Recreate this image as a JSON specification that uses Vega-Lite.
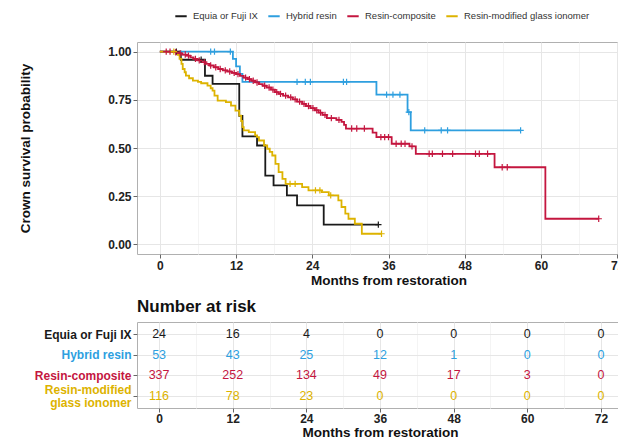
{
  "$schema": "https://vega.github.io/schema/vega-lite/v6.json",
  "padding": {"left": 17, "top": 9, "right": 5, "bottom": 0},
  "background": "white",
  "config": {
    "font": "Liberation Sans",
    "view": {"stroke": "#b0b0b0", "strokeWidth": 1},
    "axis": {
      "labelFont": "Liberation Sans",
      "titleFont": "Liberation Sans",
      "labelFontWeight": "bold",
      "labelFontSize": 12,
      "labelColor": "#222222",
      "titleFontWeight": "bold",
      "titleFontSize": 13.5,
      "titleColor": "#111111",
      "domain": false,
      "tickColor": "#666666",
      "tickSize": 4,
      "gridColor": "#e6e6e6",
      "gridWidth": 1
    }
  },
  "datasets": {
    "km": [
      {"g": "Equia or Fuji IX", "t": 0, "s": 1},
      {"g": "Equia or Fuji IX", "t": 3.3, "s": 0.958},
      {"g": "Equia or Fuji IX", "t": 7.1, "s": 0.875},
      {"g": "Equia or Fuji IX", "t": 8.3, "s": 0.833},
      {"g": "Equia or Fuji IX", "t": 12.5, "s": 0.667},
      {"g": "Equia or Fuji IX", "t": 13.0, "s": 0.56},
      {"g": "Equia or Fuji IX", "t": 15.3, "s": 0.513},
      {"g": "Equia or Fuji IX", "t": 16.6, "s": 0.357},
      {"g": "Equia or Fuji IX", "t": 17.9, "s": 0.306},
      {"g": "Equia or Fuji IX", "t": 20.0, "s": 0.254},
      {"g": "Equia or Fuji IX", "t": 21.6, "s": 0.202},
      {"g": "Equia or Fuji IX", "t": 25.8, "s": 0.102},
      {"g": "Equia or Fuji IX", "t": 34.4, "s": 0.102},
      {"g": "Hybrid resin", "t": 0, "s": 1},
      {"g": "Hybrid resin", "t": 11.5, "s": 0.962},
      {"g": "Hybrid resin", "t": 12.0, "s": 0.924},
      {"g": "Hybrid resin", "t": 12.6, "s": 0.885},
      {"g": "Hybrid resin", "t": 13.0, "s": 0.843},
      {"g": "Hybrid resin", "t": 34.1, "s": 0.777},
      {"g": "Hybrid resin", "t": 39.0, "s": 0.686},
      {"g": "Hybrid resin", "t": 39.5, "s": 0.591},
      {"g": "Hybrid resin", "t": 56.8, "s": 0.591},
      {"g": "Resin-composite", "t": 0, "s": 1},
      {"g": "Resin-composite", "t": 2.0, "s": 0.997},
      {"g": "Resin-composite", "t": 3.0, "s": 0.991},
      {"g": "Resin-composite", "t": 3.5, "s": 0.985},
      {"g": "Resin-composite", "t": 4.2, "s": 0.979},
      {"g": "Resin-composite", "t": 4.8, "s": 0.970},
      {"g": "Resin-composite", "t": 5.3, "s": 0.962},
      {"g": "Resin-composite", "t": 5.9, "s": 0.955},
      {"g": "Resin-composite", "t": 6.5, "s": 0.946},
      {"g": "Resin-composite", "t": 7.2, "s": 0.937},
      {"g": "Resin-composite", "t": 7.8, "s": 0.928},
      {"g": "Resin-composite", "t": 8.5, "s": 0.919},
      {"g": "Resin-composite", "t": 9.2, "s": 0.910},
      {"g": "Resin-composite", "t": 9.9, "s": 0.903},
      {"g": "Resin-composite", "t": 10.6, "s": 0.897},
      {"g": "Resin-composite", "t": 11.3, "s": 0.890},
      {"g": "Resin-composite", "t": 12.0, "s": 0.883},
      {"g": "Resin-composite", "t": 12.6, "s": 0.874},
      {"g": "Resin-composite", "t": 13.2, "s": 0.865},
      {"g": "Resin-composite", "t": 13.8, "s": 0.857},
      {"g": "Resin-composite", "t": 14.4, "s": 0.849},
      {"g": "Resin-composite", "t": 15.0, "s": 0.840},
      {"g": "Resin-composite", "t": 15.6, "s": 0.831},
      {"g": "Resin-composite", "t": 16.2, "s": 0.823},
      {"g": "Resin-composite", "t": 16.8, "s": 0.814},
      {"g": "Resin-composite", "t": 17.5, "s": 0.803},
      {"g": "Resin-composite", "t": 18.1, "s": 0.790},
      {"g": "Resin-composite", "t": 18.7, "s": 0.781},
      {"g": "Resin-composite", "t": 19.4, "s": 0.772},
      {"g": "Resin-composite", "t": 20.2, "s": 0.763},
      {"g": "Resin-composite", "t": 20.9, "s": 0.752},
      {"g": "Resin-composite", "t": 21.6, "s": 0.741},
      {"g": "Resin-composite", "t": 22.4, "s": 0.729},
      {"g": "Resin-composite", "t": 23.0, "s": 0.718},
      {"g": "Resin-composite", "t": 23.7, "s": 0.707},
      {"g": "Resin-composite", "t": 24.4, "s": 0.696},
      {"g": "Resin-composite", "t": 25.0, "s": 0.684},
      {"g": "Resin-composite", "t": 25.6, "s": 0.672},
      {"g": "Resin-composite", "t": 26.3, "s": 0.655},
      {"g": "Resin-composite", "t": 27.8, "s": 0.646},
      {"g": "Resin-composite", "t": 28.6, "s": 0.636},
      {"g": "Resin-composite", "t": 29.0, "s": 0.620},
      {"g": "Resin-composite", "t": 29.3, "s": 0.601},
      {"g": "Resin-composite", "t": 33.5, "s": 0.580},
      {"g": "Resin-composite", "t": 34.1, "s": 0.556},
      {"g": "Resin-composite", "t": 36.5, "s": 0.522},
      {"g": "Resin-composite", "t": 39.3, "s": 0.508},
      {"g": "Resin-composite", "t": 40.3, "s": 0.470},
      {"g": "Resin-composite", "t": 52.7, "s": 0.400},
      {"g": "Resin-composite", "t": 60.7, "s": 0.133},
      {"g": "Resin-composite", "t": 69.1, "s": 0.133},
      {"g": "Resin-modified glass ionomer", "t": 0, "s": 1},
      {"g": "Resin-modified glass ionomer", "t": 2.8, "s": 0.983},
      {"g": "Resin-modified glass ionomer", "t": 3.1, "s": 0.962},
      {"g": "Resin-modified glass ionomer", "t": 3.4, "s": 0.936},
      {"g": "Resin-modified glass ionomer", "t": 3.6, "s": 0.910},
      {"g": "Resin-modified glass ionomer", "t": 3.9, "s": 0.893},
      {"g": "Resin-modified glass ionomer", "t": 4.1, "s": 0.876},
      {"g": "Resin-modified glass ionomer", "t": 4.6, "s": 0.862},
      {"g": "Resin-modified glass ionomer", "t": 5.2, "s": 0.850},
      {"g": "Resin-modified glass ionomer", "t": 6.0, "s": 0.843},
      {"g": "Resin-modified glass ionomer", "t": 6.5, "s": 0.836},
      {"g": "Resin-modified glass ionomer", "t": 7.5, "s": 0.824},
      {"g": "Resin-modified glass ionomer", "t": 8.0, "s": 0.810},
      {"g": "Resin-modified glass ionomer", "t": 8.3, "s": 0.798},
      {"g": "Resin-modified glass ionomer", "t": 8.6, "s": 0.772},
      {"g": "Resin-modified glass ionomer", "t": 9.1, "s": 0.746},
      {"g": "Resin-modified glass ionomer", "t": 10.4, "s": 0.738},
      {"g": "Resin-modified glass ionomer", "t": 11.2, "s": 0.720},
      {"g": "Resin-modified glass ionomer", "t": 11.9, "s": 0.694},
      {"g": "Resin-modified glass ionomer", "t": 12.5, "s": 0.668},
      {"g": "Resin-modified glass ionomer", "t": 12.8, "s": 0.640},
      {"g": "Resin-modified glass ionomer", "t": 13.0, "s": 0.608},
      {"g": "Resin-modified glass ionomer", "t": 13.2, "s": 0.591},
      {"g": "Resin-modified glass ionomer", "t": 14.0, "s": 0.582},
      {"g": "Resin-modified glass ionomer", "t": 15.0, "s": 0.565},
      {"g": "Resin-modified glass ionomer", "t": 15.3, "s": 0.556},
      {"g": "Resin-modified glass ionomer", "t": 15.6, "s": 0.539},
      {"g": "Resin-modified glass ionomer", "t": 16.4, "s": 0.513},
      {"g": "Resin-modified glass ionomer", "t": 16.9, "s": 0.496},
      {"g": "Resin-modified glass ionomer", "t": 17.3, "s": 0.480},
      {"g": "Resin-modified glass ionomer", "t": 17.7, "s": 0.461},
      {"g": "Resin-modified glass ionomer", "t": 18.2, "s": 0.418},
      {"g": "Resin-modified glass ionomer", "t": 18.7, "s": 0.375},
      {"g": "Resin-modified glass ionomer", "t": 19.3, "s": 0.340},
      {"g": "Resin-modified glass ionomer", "t": 19.8, "s": 0.314},
      {"g": "Resin-modified glass ionomer", "t": 22.4, "s": 0.297},
      {"g": "Resin-modified glass ionomer", "t": 23.4, "s": 0.280},
      {"g": "Resin-modified glass ionomer", "t": 25.5, "s": 0.271},
      {"g": "Resin-modified glass ionomer", "t": 26.6, "s": 0.254},
      {"g": "Resin-modified glass ionomer", "t": 28.1, "s": 0.228},
      {"g": "Resin-modified glass ionomer", "t": 28.6, "s": 0.194},
      {"g": "Resin-modified glass ionomer", "t": 29.2, "s": 0.159},
      {"g": "Resin-modified glass ionomer", "t": 29.7, "s": 0.133},
      {"g": "Resin-modified glass ionomer", "t": 30.7, "s": 0.107},
      {"g": "Resin-modified glass ionomer", "t": 31.8, "s": 0.055},
      {"g": "Resin-modified glass ionomer", "t": 34.9, "s": 0.055}
    ],
    "cens": [
      {"g": "Equia or Fuji IX", "t": 2.6, "s": 1},
      {"g": "Equia or Fuji IX", "t": 6.5, "s": 0.958},
      {"g": "Equia or Fuji IX", "t": 34.4, "s": 0.102},
      {"g": "Hybrid resin", "t": 8.0, "s": 1},
      {"g": "Hybrid resin", "t": 8.6, "s": 1},
      {"g": "Hybrid resin", "t": 11.1, "s": 1},
      {"g": "Hybrid resin", "t": 21.6, "s": 0.843},
      {"g": "Hybrid resin", "t": 22.9, "s": 0.843},
      {"g": "Hybrid resin", "t": 23.7, "s": 0.843},
      {"g": "Hybrid resin", "t": 28.9, "s": 0.843},
      {"g": "Hybrid resin", "t": 29.4, "s": 0.843},
      {"g": "Hybrid resin", "t": 35.7, "s": 0.777},
      {"g": "Hybrid resin", "t": 36.7, "s": 0.777},
      {"g": "Hybrid resin", "t": 37.8, "s": 0.777},
      {"g": "Hybrid resin", "t": 39.2, "s": 0.686},
      {"g": "Hybrid resin", "t": 41.7, "s": 0.591},
      {"g": "Hybrid resin", "t": 44.3, "s": 0.591},
      {"g": "Hybrid resin", "t": 45.3, "s": 0.591},
      {"g": "Hybrid resin", "t": 56.8, "s": 0.591},
      {"g": "Resin-composite", "t": 1.0, "s": 1},
      {"g": "Resin-composite", "t": 1.6, "s": 1},
      {"g": "Resin-composite", "t": 2.5, "s": 0.997},
      {"g": "Resin-composite", "t": 3.2, "s": 0.991},
      {"g": "Resin-composite", "t": 4.0, "s": 0.985},
      {"g": "Resin-composite", "t": 4.5, "s": 0.979},
      {"g": "Resin-composite", "t": 5.6, "s": 0.962},
      {"g": "Resin-composite", "t": 6.2, "s": 0.955},
      {"g": "Resin-composite", "t": 7.0, "s": 0.946},
      {"g": "Resin-composite", "t": 8.0, "s": 0.928},
      {"g": "Resin-composite", "t": 8.8, "s": 0.919},
      {"g": "Resin-composite", "t": 9.5, "s": 0.910},
      {"g": "Resin-composite", "t": 10.3, "s": 0.903},
      {"g": "Resin-composite", "t": 11.0, "s": 0.897},
      {"g": "Resin-composite", "t": 11.7, "s": 0.890},
      {"g": "Resin-composite", "t": 12.3, "s": 0.883},
      {"g": "Resin-composite", "t": 13.5, "s": 0.865},
      {"g": "Resin-composite", "t": 14.1, "s": 0.857},
      {"g": "Resin-composite", "t": 14.7, "s": 0.849},
      {"g": "Resin-composite", "t": 15.3, "s": 0.840},
      {"g": "Resin-composite", "t": 16.5, "s": 0.823},
      {"g": "Resin-composite", "t": 17.2, "s": 0.814},
      {"g": "Resin-composite", "t": 17.8, "s": 0.803},
      {"g": "Resin-composite", "t": 18.4, "s": 0.790},
      {"g": "Resin-composite", "t": 19.0, "s": 0.781},
      {"g": "Resin-composite", "t": 19.8, "s": 0.772},
      {"g": "Resin-composite", "t": 20.6, "s": 0.763},
      {"g": "Resin-composite", "t": 21.3, "s": 0.752},
      {"g": "Resin-composite", "t": 22.0, "s": 0.741},
      {"g": "Resin-composite", "t": 22.7, "s": 0.729},
      {"g": "Resin-composite", "t": 23.4, "s": 0.718},
      {"g": "Resin-composite", "t": 24.1, "s": 0.707},
      {"g": "Resin-composite", "t": 24.7, "s": 0.696},
      {"g": "Resin-composite", "t": 25.3, "s": 0.684},
      {"g": "Resin-composite", "t": 26.0, "s": 0.672},
      {"g": "Resin-composite", "t": 27.0, "s": 0.655},
      {"g": "Resin-composite", "t": 28.2, "s": 0.646},
      {"g": "Resin-composite", "t": 30.2, "s": 0.601},
      {"g": "Resin-composite", "t": 31.0, "s": 0.601},
      {"g": "Resin-composite", "t": 32.2, "s": 0.601},
      {"g": "Resin-composite", "t": 34.8, "s": 0.556},
      {"g": "Resin-composite", "t": 35.4, "s": 0.556},
      {"g": "Resin-composite", "t": 36.0, "s": 0.556},
      {"g": "Resin-composite", "t": 37.2, "s": 0.522},
      {"g": "Resin-composite", "t": 38.0, "s": 0.522},
      {"g": "Resin-composite", "t": 38.6, "s": 0.522},
      {"g": "Resin-composite", "t": 39.7, "s": 0.508},
      {"g": "Resin-composite", "t": 42.4, "s": 0.470},
      {"g": "Resin-composite", "t": 42.9, "s": 0.470},
      {"g": "Resin-composite", "t": 44.5, "s": 0.470},
      {"g": "Resin-composite", "t": 46.1, "s": 0.470},
      {"g": "Resin-composite", "t": 49.7, "s": 0.470},
      {"g": "Resin-composite", "t": 50.3, "s": 0.470},
      {"g": "Resin-composite", "t": 51.6, "s": 0.470},
      {"g": "Resin-composite", "t": 53.9, "s": 0.400},
      {"g": "Resin-composite", "t": 54.7, "s": 0.400},
      {"g": "Resin-composite", "t": 69.1, "s": 0.133},
      {"g": "Resin-modified glass ionomer", "t": 2.2, "s": 1},
      {"g": "Resin-modified glass ionomer", "t": 20.5, "s": 0.314},
      {"g": "Resin-modified glass ionomer", "t": 21.3, "s": 0.314},
      {"g": "Resin-modified glass ionomer", "t": 24.5, "s": 0.280},
      {"g": "Resin-modified glass ionomer", "t": 25.2, "s": 0.280},
      {"g": "Resin-modified glass ionomer", "t": 26.9, "s": 0.254},
      {"g": "Resin-modified glass ionomer", "t": 34.9, "s": 0.055}
    ],
    "risk": [
      {"g": "Equia or Fuji IX", "t": 0, "n": 24},
      {"g": "Equia or Fuji IX", "t": 12, "n": 16},
      {"g": "Equia or Fuji IX", "t": 24, "n": 4},
      {"g": "Equia or Fuji IX", "t": 36, "n": 0},
      {"g": "Equia or Fuji IX", "t": 48, "n": 0},
      {"g": "Equia or Fuji IX", "t": 60, "n": 0},
      {"g": "Equia or Fuji IX", "t": 72, "n": 0},
      {"g": "Hybrid resin", "t": 0, "n": 53},
      {"g": "Hybrid resin", "t": 12, "n": 43},
      {"g": "Hybrid resin", "t": 24, "n": 25},
      {"g": "Hybrid resin", "t": 36, "n": 12},
      {"g": "Hybrid resin", "t": 48, "n": 1},
      {"g": "Hybrid resin", "t": 60, "n": 0},
      {"g": "Hybrid resin", "t": 72, "n": 0},
      {"g": "Resin-composite", "t": 0, "n": 337},
      {"g": "Resin-composite", "t": 12, "n": 252},
      {"g": "Resin-composite", "t": 24, "n": 134},
      {"g": "Resin-composite", "t": 36, "n": 49},
      {"g": "Resin-composite", "t": 48, "n": 17},
      {"g": "Resin-composite", "t": 60, "n": 3},
      {"g": "Resin-composite", "t": 72, "n": 0},
      {"g": "Resin-modified glass ionomer", "t": 0, "n": 116},
      {"g": "Resin-modified glass ionomer", "t": 12, "n": 78},
      {"g": "Resin-modified glass ionomer", "t": 24, "n": 23},
      {"g": "Resin-modified glass ionomer", "t": 36, "n": 0},
      {"g": "Resin-modified glass ionomer", "t": 48, "n": 0},
      {"g": "Resin-modified glass ionomer", "t": 60, "n": 0},
      {"g": "Resin-modified glass ionomer", "t": 72, "n": 0}
    ]
  },
  "vconcat": [
    {
      "width": 503,
      "height": 212,
      "layer": [
        {
          "data": {"name": "km"},
          "mark": {"type": "line", "interpolate": "step-after", "strokeWidth": 1.8},
          "encoding": {
            "x": {
              "field": "t", "type": "quantitative",
              "scale": {"domain": [-3.6, 75.6], "nice": false, "zero": false},
              "axis": {
                "title": "Months from restoration",
                "values": [0, 6, 12, 18, 24, 30, 36, 42, 48, 54, 60, 66, 72],
                "labelExpr": "datum.value % 12 === 0 ? datum.label : ''",
                "tickOpacity": {"condition": {"test": "datum.value % 12 !== 0", "value": 0}, "value": 1},
                "gridColor": {"condition": {"test": "datum.value % 12 !== 0", "value": "#f4f4f4"}, "value": "#e6e6e6"},
                "labelPadding": 2,
                "titlePadding": 2
              }
            },
            "y": {
              "field": "s", "type": "quantitative",
              "scale": {"domain": [-0.05, 1.05], "nice": false, "zero": false},
              "axis": {
                "title": "Crown survival probability",
                "values": [0, 0.125, 0.25, 0.375, 0.5, 0.625, 0.75, 0.875, 1],
                "labelExpr": "(datum.value * 4) % 1 === 0 ? format(datum.value, '.2f') : ''",
                "tickOpacity": {"condition": {"test": "(datum.value * 4) % 1 !== 0", "value": 0}, "value": 1},
                "gridColor": {"condition": {"test": "(datum.value * 4) % 1 !== 0", "value": "#f4f4f4"}, "value": "#e6e6e6"},
                "minExtent": 30,
                "maxExtent": 30,
                "titlePadding": 75
              }
            },
            "color": {
              "field": "g", "type": "nominal",
              "scale": {
                "domain": ["Equia or Fuji IX", "Hybrid resin", "Resin-composite", "Resin-modified glass ionomer"],
                "range": ["#1a1a1a", "#2E9FDF", "#C4163F", "#DDB300"]
              },
              "legend": {
                "orient": "none",
                "legendX": 37,
                "legendY": -33,
                "direction": "horizontal",
                "columns": 4,
                "title": null,
                "symbolType": "stroke",
                "symbolSize": 130,
                "symbolStrokeWidth": 2,
                "labelFontSize": 9.5,
                "labelFont": "Liberation Sans",
                "labelColor": "#333333",
                "labelOffset": 5,
                "columnPadding": 6,
                "labelLimit": 300
              }
            }
          }
        },
        {
          "data": {"name": "cens"},
          "mark": {"type": "point", "shape": "M-1,0L1,0M0,-1L0,1", "filled": false, "size": 40, "strokeWidth": 1.2, "opacity": 1},
          "encoding": {
            "x": {"field": "t", "type": "quantitative"},
            "y": {"field": "s", "type": "quantitative"},
            "color": {"field": "g", "type": "nominal"}
          }
        },
        {
          "mark": {"type": "text", "align": "left", "baseline": "middle", "fontSize": 12, "color": "#333333", "font": "Liberation Sans"},
          "encoding": {
            "x": {"datum": 2},
            "y": {"datum": 0.073},
            "text": {"value": "p < 0.001"}
          }
        }
      ]
    },
    {
      "width": 486,
      "height": 86,
      "title": {"text": "Number at risk", "anchor": "start", "frame": "group", "fontSize": 17, "fontWeight": "bold", "font": "Liberation Sans", "color": "#111111", "offset": 6},
      "data": {"name": "risk"},
      "mark": {"type": "text", "fontSize": 12.5, "font": "Liberation Sans"},
      "encoding": {
        "x": {
          "field": "t", "type": "quantitative",
          "scale": {"domain": [-3.6, 75.6], "nice": false, "zero": false},
          "axis": {
            "title": "Months from restoration",
            "values": [0, 6, 12, 18, 24, 30, 36, 42, 48, 54, 60, 66, 72],
            "labelExpr": "datum.value % 12 === 0 ? datum.label : ''",
            "tickOpacity": {"condition": {"test": "datum.value % 12 !== 0", "value": 0}, "value": 1},
            "gridColor": {"condition": {"test": "datum.value % 12 !== 0", "value": "#f4f4f4"}, "value": "#e6e6e6"},
            "labelPadding": 1,
            "titlePadding": 1
          }
        },
        "y": {
          "field": "g", "type": "nominal",
          "scale": {"type": "point", "padding": 0.6},
          "axis": {
            "title": null,
            "grid": true,
            "labelLineHeight": 13,
            "labelLimit": 200,
            "labelExpr": "datum.value === 'Resin-modified glass ionomer' ? ['Resin-modified', 'glass ionomer'] : datum.label",
            "labelOffset": {"condition": {"test": "datum.value === 'Resin-modified glass ionomer'", "value": -6}, "value": 0},
            "labelColor": {
              "condition": [
                {"test": "datum.value === 'Hybrid resin'", "value": "#2E9FDF"},
                {"test": "datum.value === 'Resin-composite'", "value": "#C4163F"},
                {"test": "datum.value === 'Resin-modified glass ionomer'", "value": "#DDB300"}
              ],
              "value": "#1a1a1a"
            }
          }
        },
        "text": {"field": "n", "type": "quantitative"},
        "color": {"field": "g", "type": "nominal", "legend": null}
      }
    }
  ],
  "spacing": 68,
  "bounds": "flush"
}
